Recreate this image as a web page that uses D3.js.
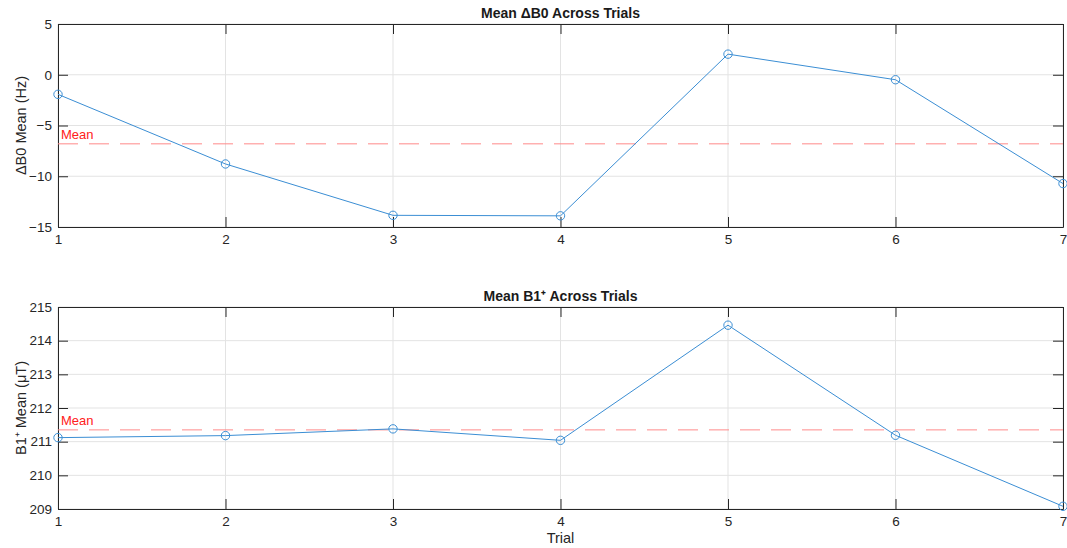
<!DOCTYPE html>
<html>
<head>
<meta charset="utf-8">
<script src="https://cdn.jsdelivr.net/npm/d3@7"></script>
<style>
  body { margin: 0; background: #fff; }
  svg { display: block; font-family: "Liberation Sans", Arial, sans-serif; }
  .tick text { font-size: 13.5px; fill: #262626; }
</style>
</head>
<body>
<svg id="canvas"></svg>
<script>
let trials = [1, 2, 3, 4, 5, 6, 7]
let b0Values = [-1.93, -8.79, -13.85, -13.9, 2.03, -0.49, -10.72]
let b1Values = [211.12, 211.18, 211.38, 211.04, 214.46, 211.19, 209.08]
let b0Ticks = [-15, -10, -5, 0, 5]
let b1Ticks = [209, 210, 211, 212, 213, 214, 215]

let width = 1067
let height = 548
let left = 58
let right = 1063

let blue = "#3b8ed4"
let axisColor = "#262626"
let gridColor = "#e3e3e3"

let canvas = d3.select("#canvas")
    .attr("width", width)
    .attr("height", height)

let xScale = d3.scaleLinear()
    .domain([1, 7])
    .range([left, right])

let drawPanel = (opts) => {
    let yScale = d3.scaleLinear()
        .domain(opts.domain)
        .range([opts.bottom, opts.top])

    let g = canvas.append("g")

    // grid
    g.selectAll(".gx").data(trials).enter().append("line")
        .attr("x1", d => xScale(d)).attr("x2", d => xScale(d))
        .attr("y1", opts.top).attr("y2", opts.bottom)
        .attr("stroke", gridColor).attr("stroke-width", 1)
    g.selectAll(".gy").data(opts.ticks).enter().append("line")
        .attr("x1", left).attr("x2", right)
        .attr("y1", d => yScale(d)).attr("y2", d => yScale(d))
        .attr("stroke", gridColor).attr("stroke-width", 1)

    // axes with inward ticks
    let xAxis = d3.axisBottom(xScale).tickValues(trials).tickFormat(d3.format("d"))
        .tickSizeInner(-10).tickSizeOuter(0).tickPadding(7)
    let xg = g.append("g").attr("transform", "translate(0," + opts.bottom + ")").call(xAxis)

    let xTop = d3.axisTop(xScale).tickValues(trials).tickFormat("")
        .tickSizeInner(-10).tickSizeOuter(0)
    let xtg = g.append("g").attr("transform", "translate(0," + opts.top + ")").call(xTop)

    let yAxis = d3.axisLeft(yScale).tickValues(opts.ticks).tickFormat(d3.format("d"))
        .tickSizeInner(-10).tickSizeOuter(0).tickPadding(6)
    let yg = g.append("g").attr("transform", "translate(" + left + ",0)").call(yAxis)

    let yRight = d3.axisRight(yScale).tickValues(opts.ticks).tickFormat("")
        .tickSizeInner(-10).tickSizeOuter(0)
    let yrg = g.append("g").attr("transform", "translate(" + right + ",0)").call(yRight)

    ;[xg, xtg, yg, yrg].forEach(a => {
        a.selectAll("path").attr("stroke", axisColor).attr("stroke-width", 1)
        a.selectAll("line").attr("stroke", axisColor).attr("stroke-width", 1)
    })
    xg.selectAll("text").attr("dy", "0.71em")

    // mean line
    let mean = d3.mean(opts.values)
    g.append("line")
        .attr("x1", left).attr("x2", right)
        .attr("y1", yScale(mean)).attr("y2", yScale(mean))
        .attr("stroke", "#ff8a8a").attr("stroke-width", 1)
        .attr("stroke-dasharray", "20,11")
    g.append("text")
        .attr("x", left + 3).attr("y", yScale(mean) - 5)
        .attr("fill", "#ff2020").style("font-size", "13px")
        .text("Mean")

    // data line
    let line = d3.line()
        .x((d, i) => xScale(trials[i]))
        .y(d => yScale(d))
    g.append("path")
        .datum(opts.values)
        .attr("d", line)
        .attr("fill", "none")
        .attr("stroke", blue)
        .attr("stroke-width", 1)

    g.selectAll(".pt").data(opts.values).enter().append("circle")
        .attr("cx", (d, i) => xScale(trials[i]))
        .attr("cy", d => yScale(d))
        .attr("r", 4.2)
        .attr("fill", "none")
        .attr("stroke", blue)
        .attr("stroke-width", 1)

    // title
    g.append("text")
        .attr("x", (left + right) / 2).attr("y", opts.top - 6)
        .attr("text-anchor", "middle")
        .style("font-size", "14px").style("font-weight", "bold")
        .attr("fill", "#1a1a1a")
        .text(opts.title)

    // y label
    g.append("text")
        .attr("transform", "translate(" + 26 + "," + ((opts.top + opts.bottom) / 2) + ") rotate(-90)")
        .attr("text-anchor", "middle")
        .style("font-size", "14.5px")
        .attr("fill", "#262626")
        .text(opts.ylabel)
}

drawPanel({
    values: b0Values,
    domain: [-15, 5],
    ticks: b0Ticks,
    top: 24,
    bottom: 227,
    title: "Mean ΔB0 Across Trials",
    ylabel: "ΔB0 Mean (Hz)"
})

drawPanel({
    values: b1Values,
    domain: [209, 215],
    ticks: b1Ticks,
    top: 307,
    bottom: 509,
    title: "Mean B1⁺ Across Trials",
    ylabel: "B1⁺ Mean (μT)"
})

canvas.append("text")
    .attr("x", (left + right) / 2).attr("y", 543)
    .attr("text-anchor", "middle")
    .style("font-size", "14.5px")
    .attr("fill", "#262626")
    .text("Trial")
</script>
</body>
</html>
